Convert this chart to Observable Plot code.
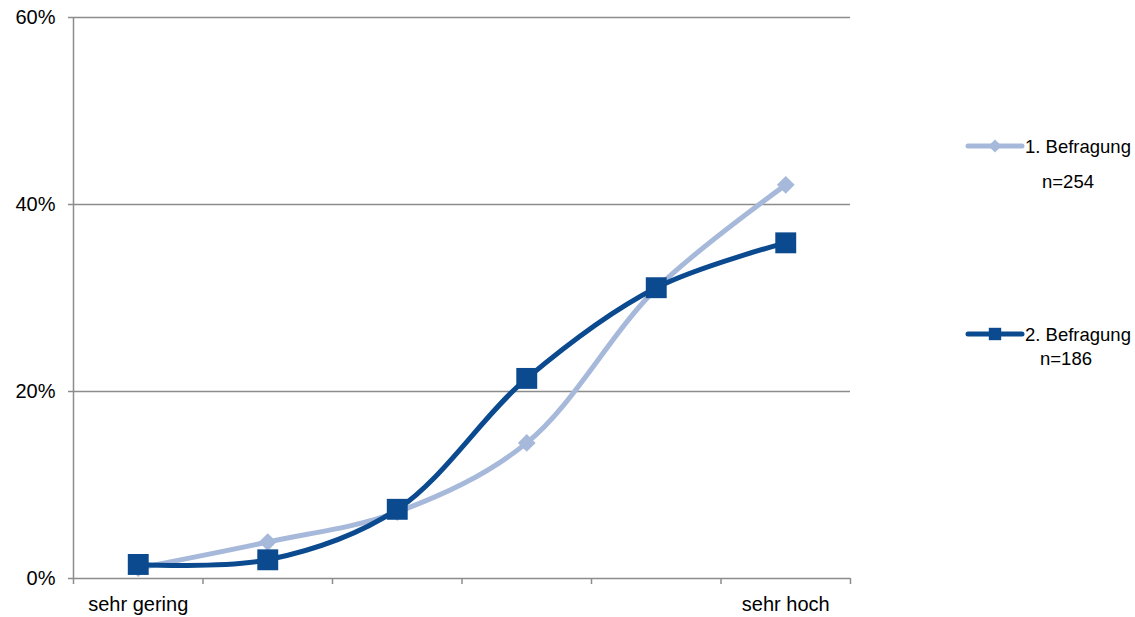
<!DOCTYPE html>
<html>
<head>
<meta charset="utf-8">
<script src="https://cdn.jsdelivr.net/npm/d3@7"></script>
<script src="https://cdn.jsdelivr.net/npm/@observablehq/plot@0.6"></script>
<style>
  html, body { margin: 0; padding: 0; background: #fff; }
  #wrap { position: relative; width: 1135px; height: 617px; font-family: "Liberation Sans", Arial, sans-serif; }
  #wrap svg.plot { overflow: visible; }
  #legend { position: absolute; left: 0; top: 0; pointer-events: none; }
</style>
</head>
<body>
<div id="wrap"></div>
<script>
// ---- data ----
const xPos = [1, 2, 3, 4, 5, 6];
const xLabels = ["sehr gering", "", "", "", "", "sehr hoch"];
const xBounds = [0.5, 1.5, 2.5, 3.5, 4.5, 5.5, 6.5];
const yTicks = [0, 0.2, 0.4, 0.6];
const seriesNames = ["1. Befragung", "2. Befragung"];
const seriesN = ["n=254", "n=186"];
const series1 = [0.011, 0.039, 0.071, 0.145, 0.310, 0.421];
const series2 = [0.015, 0.020, 0.074, 0.214, 0.311, 0.359];

const colors = ["#A7B9DA", "#0B4A8F"];
const gray = "#8C8C8C";

const data1 = xPos.map((x, i) => ({x, y: series1[i]}));
const data2 = xPos.map((x, i) => ({x, y: series2[i]}));

const chart = Plot.plot({
  width: 1135,
  height: 617,
  marginLeft: 73,
  marginRight: 285,
  marginTop: 17,
  marginBottom: 39,
  style: {fontFamily: "'Liberation Sans', Arial, sans-serif", background: "white"},
  x: {type: "linear", domain: [0.5, 6.5]},
  y: {domain: [0, 0.6]},
  marks: [
    Plot.gridY(yTicks, {stroke: gray, strokeOpacity: 1, strokeWidth: 1.5}),
    Plot.ruleX([0.5], {stroke: gray, strokeWidth: 1.5}),
    Plot.axisY({ticks: yTicks, tickFormat: d3.format(".0%"), tickSize: 5, tickPadding: 13,
      fontSize: 20, stroke: gray, strokeWidth: 1.5, fill: "black", label: null}),
    Plot.axisX({ticks: xBounds, tickFormat: () => "", tickSize: 6, stroke: gray, strokeWidth: 1.5, label: null}),
    Plot.axisX({ticks: xPos, tickFormat: d => xLabels[d - 1], tickSize: 0, tickPadding: 18,
      fontSize: 20, fill: "black", label: null}),
    Plot.line(data1, {x: "x", y: "y", stroke: colors[0], strokeWidth: 5, curve: "catmull-rom"}),
    Plot.dot(data1, {x: "x", y: "y", symbol: "diamond2", r: 8, fill: colors[0]}),
    Plot.line(data2, {x: "x", y: "y", stroke: colors[1], strokeWidth: 5, curve: "catmull-rom"}),
    Plot.dot(data2, {x: "x", y: "y", symbol: "square", r: 11.8, fill: colors[1]})
  ]
});
document.getElementById("wrap").appendChild(chart);

// ---- legend (HTML overlay) ----
const lg = d3.select("#wrap").append("svg").attr("id", "legend")
  .attr("width", 1135).attr("height", 617)
  .style("font-family", "'Liberation Sans', Arial, sans-serif");
const legendY = [146, 334];
const symbols = [d3.symbolDiamond2, d3.symbolSquare];
const symSize = [8 * 8 * Math.PI * 0.55, 7 * 7 * Math.PI];
seriesNames.forEach((name, i) => {
  const y = legendY[i];
  lg.append("line").attr("x1", 968).attr("x2", 1022).attr("y1", y).attr("y2", y)
    .attr("stroke", colors[i]).attr("stroke-width", 5).attr("stroke-linecap", "round");
  lg.append("path").attr("d", d3.symbol(symbols[i], symSize[i])())
    .attr("transform", `translate(995,${y})`).attr("fill", colors[i]);
  lg.append("text").attr("x", 1025).attr("y", y + 7).attr("font-size", 18.5).attr("fill", "black").text(name);
  lg.append("text").attr("x", i === 0 ? 1042 : 1040).attr("y", y + (i === 0 ? 42 : 31))
    .attr("font-size", 18.5).attr("fill", "black").text(seriesN[i]);
});
</script>
</body>
</html>
